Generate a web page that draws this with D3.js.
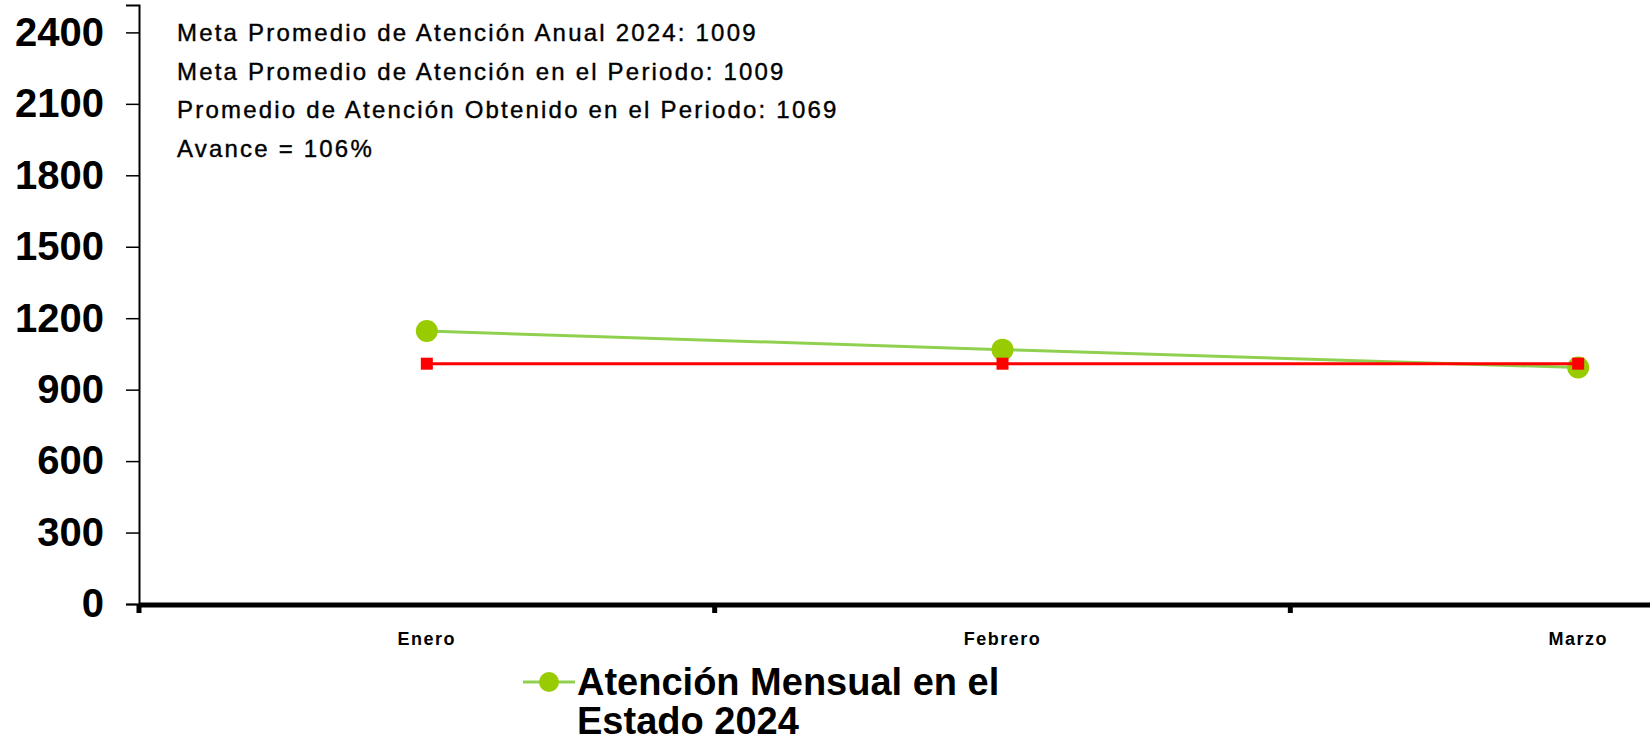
<!DOCTYPE html>
<html>
<head>
<meta charset="utf-8">
<script src="https://cdn.jsdelivr.net/npm/d3@7"></script>
<style>
  html, body { margin: 0; padding: 0; background: #fff; }
  svg { display: block; font-family: "Liberation Sans", Arial, sans-serif; }
</style>
</head>
<body>
<div id="chart"></div>
<script>
// data
var months = ["Enero", "Febrero", "Marzo"];
var atencionMensual = [1146, 1068, 993];
var metaMensual = [1009, 1009, 1009];
var yTicks = [0, 300, 600, 900, 1200, 1500, 1800, 2100, 2400];
var notes = [
  "Meta Promedio de Atención Anual 2024: 1009",
  "Meta Promedio de Atención en el Periodo: 1009",
  "Promedio de Atención Obtenido en el Periodo: 1069",
  "Avance = 106%"
];
var legendLines = ["Atención Mensual en el", "Estado 2024"];

var width = 1650, height = 742;
// plot area (the chart runs past the right edge, like the original)
var plot = {left: 139, right: 1866, top: 5, bottom: 604};

var svg = d3.select("#chart").append("svg")
  .attr("width", width)
  .attr("height", height);

var x = d3.scaleBand()
  .domain(months)
  .range([plot.left, plot.right])
  .padding(0);

var y = d3.scaleLinear()
  .domain([0, 2515])
  .range([plot.bottom, plot.top]);

var cx = d => x(d) + x.bandwidth() / 2;

// y axis
var yAxis = svg.append("g")
  .attr("transform", "translate(" + plot.left + ",0)")
  .call(d3.axisLeft(y).tickValues(yTicks).tickSize(13).tickPadding(22).tickFormat(d3.format("d")));
yAxis.select(".domain").attr("stroke", "#000").attr("stroke-width", 2);
yAxis.selectAll(".tick line").attr("stroke", "#000").attr("stroke-width", 1.5);
yAxis.selectAll(".tick text")
  .attr("fill", "#000")
  .style("font-size", "40px")
  .style("font-weight", "bold");

// x axis (thick baseline, ticks between categories)
svg.append("line")
  .attr("x1", plot.left).attr("x2", width)
  .attr("y1", y(0) + 1).attr("y2", y(0) + 1)
  .attr("stroke", "#000")
  .attr("stroke-width", 5);

svg.selectAll(".xtick")
  .data(months)
  .enter().append("line")
  .attr("class", "xtick")
  .attr("x1", d => x(d)).attr("x2", d => x(d))
  .attr("y1", y(0)).attr("y2", y(0) + 9)
  .attr("stroke", "#000")
  .attr("stroke-width", 5);

svg.selectAll(".xlabel")
  .data(months)
  .enter().append("text")
  .attr("class", "xlabel")
  .attr("x", d => cx(d))
  .attr("y", 645)
  .attr("text-anchor", "middle")
  .style("font-size", "18px")
  .style("font-weight", "bold")
  .style("letter-spacing", "1.5px")
  .text(d => d);

// lines
var line = d3.line()
  .x(d => cx(d.m))
  .y(d => y(d.v));

var greenData = months.map((m, i) => ({m: m, v: atencionMensual[i]}));
var redData = months.map((m, i) => ({m: m, v: metaMensual[i]}));

svg.append("path")
  .datum(greenData)
  .attr("d", line)
  .attr("fill", "none")
  .attr("stroke", "#8fd14f")
  .attr("stroke-width", 3);

svg.selectAll(".gdot")
  .data(greenData)
  .enter().append("circle")
  .attr("class", "gdot")
  .attr("cx", d => cx(d.m))
  .attr("cy", d => y(d.v))
  .attr("r", 11)
  .attr("fill", "#99cc00");

svg.append("path")
  .datum(redData)
  .attr("d", line)
  .attr("fill", "none")
  .attr("stroke", "#ff0000")
  .attr("stroke-width", 3);

svg.selectAll(".rdot")
  .data(redData)
  .enter().append("rect")
  .attr("class", "rdot")
  .attr("x", d => cx(d.m) - 6)
  .attr("y", d => y(d.v) - 6)
  .attr("width", 12)
  .attr("height", 12)
  .attr("fill", "#ff0000");

// notes in the top left
svg.selectAll(".note")
  .data(notes)
  .enter().append("text")
  .attr("class", "note")
  .attr("x", 177)
  .attr("y", (d, i) => 41 + i * 38.5)
  .style("font-size", "24px")
  .style("letter-spacing", "2.2px")
  .attr("stroke", "#000")
  .attr("stroke-width", 0.4)
  .text(d => d);

// legend
var legend = svg.append("g")
  .attr("transform", "translate(523,682)");

legend.append("line")
  .attr("x1", 0).attr("x2", 52)
  .attr("y1", 0).attr("y2", 0)
  .attr("stroke", "#8fd14f")
  .attr("stroke-width", 3);

legend.append("circle")
  .attr("cx", 26).attr("cy", 0)
  .attr("r", 10)
  .attr("fill", "#99cc00");

legend.selectAll("text")
  .data(legendLines)
  .enter().append("text")
  .attr("x", 54)
  .attr("y", (d, i) => 13 + i * 39)
  .style("font-size", "38px")
  .style("font-weight", "bold")
  .text(d => d);
</script>
</body>
</html>
